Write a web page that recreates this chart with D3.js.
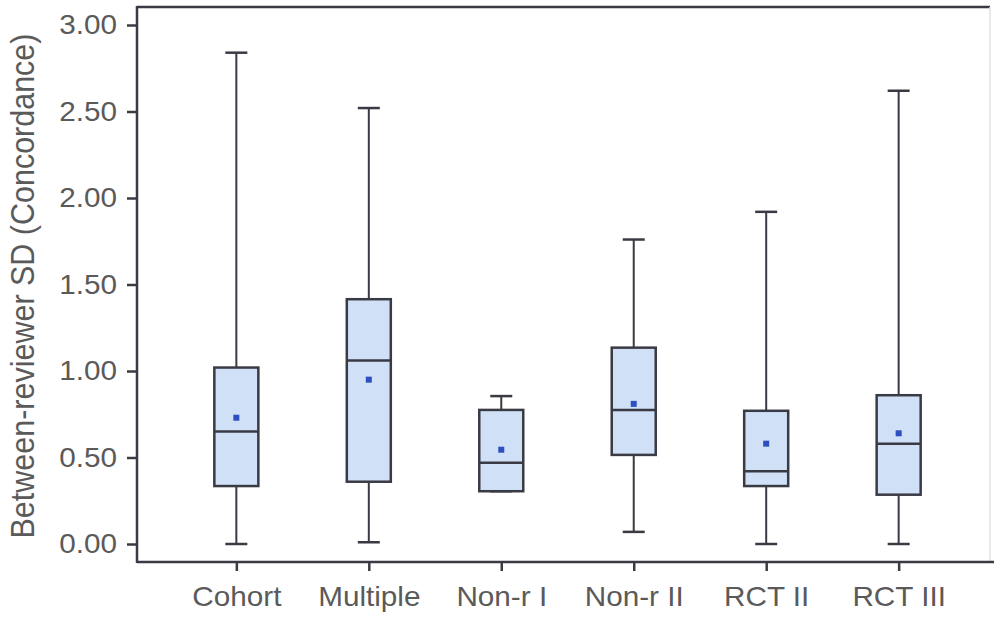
<!DOCTYPE html>
<html>
<head>
<meta charset="utf-8">
<script src="https://cdn.jsdelivr.net/npm/d3@7"></script>
<style>
  body { margin: 0; background: #fff; }
  text { font-family: "Liberation Sans", Arial, sans-serif; fill: #5a5a5a; }
</style>
</head>
<body>
<div class="canvas"></div>
<script>
// data
const categories = ['Cohort', 'Multiple', 'Non-r I', 'Non-r II', 'RCT II', 'RCT III'];
const whiskerLow = [0.00, 0.01, 0.305, 0.07, 0.00, 0.00];
const q1 = [0.335, 0.36, 0.305, 0.515, 0.335, 0.285];
const median = [0.65, 1.06, 0.47, 0.775, 0.42, 0.58];
const q3 = [1.02, 1.415, 0.775, 1.135, 0.77, 0.86];
const whiskerHigh = [2.84, 2.52, 0.855, 1.76, 1.92, 2.62];
const mean = [0.73, 0.95, 0.545, 0.81, 0.58, 0.64];
const yTicks = [0, 0.5, 1, 1.5, 2, 2.5, 3];

const dims = { width: 994, height: 619 };
const frame = { left: 137, right: 990, top: 7, bottom: 562 };
const boxW = 44, capW = 22;
const stretch = 1.1;

const svg = d3.select('.canvas')
    .append('svg')
    .attr('width', dims.width)
    .attr('height', dims.height);

const x = d3.scalePoint()
    .domain(categories)
    .range([frame.left, 998])
    .padding(0.75);

const y = d3.scaleLinear()
    .domain([0, 3])
    .range([544, 25]);

const data = categories.map((c, i) => ({
    name: c, lo: whiskerLow[i], q1: q1[i], med: median[i],
    q3: q3[i], hi: whiskerHigh[i], mean: mean[i]
}));

// frame
svg.append('line')
    .attr('x1', frame.left).attr('x2', frame.right)
    .attr('y1', frame.top).attr('y2', frame.top)
    .attr('stroke', '#3a3a44').attr('stroke-width', 2.5);
svg.append('line')
    .attr('x1', frame.right).attr('x2', frame.right)
    .attr('y1', frame.top).attr('y2', frame.bottom)
    .attr('stroke', '#e2e2e2').attr('stroke-width', 1.5);
svg.append('line')
    .attr('x1', frame.left).attr('x2', frame.left)
    .attr('y1', frame.top - 1).attr('y2', frame.bottom + 1)
    .attr('stroke', '#3a3a44').attr('stroke-width', 2.5);
svg.append('line')
    .attr('x1', frame.left).attr('x2', dims.width)
    .attr('y1', frame.bottom).attr('y2', frame.bottom)
    .attr('stroke', '#3a3a44').attr('stroke-width', 2.5);

// y axis
const yAxis = d3.axisLeft(y)
    .tickValues(yTicks)
    .tickFormat(d3.format('.2f'))
    .tickSize(10)
    .tickPadding(10);

const yG = svg.append('g')
    .attr('transform', `translate(${frame.left}, 0)`)
    .call(yAxis);
yG.select('.domain').remove();
yG.selectAll('line').attr('stroke', '#3a3a44').attr('stroke-width', 2.5);
yG.selectAll('text')
    .attr('font-size', 27)
    .attr('x', -20 / stretch)
    .attr('transform', `scale(${stretch},1)`)
    .style('fill', '#5a5a5a');

// x axis
const xAxis = d3.axisBottom(x)
    .tickSize(9)
    .tickPadding(16);

const xG = svg.append('g')
    .attr('transform', `translate(0, ${frame.bottom})`)
    .call(xAxis);
xG.select('.domain').remove();
xG.selectAll('line').attr('stroke', '#3a3a44').attr('stroke-width', 2.5);
xG.selectAll('text')
    .attr('font-size', 27)
    .attr('transform', `scale(${stretch},1)`)
    .style('fill', '#5a5a5a');

// y label
svg.append('text')
    .attr('transform', `translate(34, 286) rotate(-90) scale(1, 1.1)`)
    .attr('text-anchor', 'middle')
    .attr('font-size', 30.5)
    .text('Between-reviewer SD (Concordance)');

// boxes
const g = svg.append('g');
const box = g.selectAll('g.box')
    .data(data)
    .enter()
    .append('g')
    .attr('class', 'box')
    .attr('transform', d => `translate(${x(d.name)}, 0)`);

const stroke = '#3a3a44';

// whiskers
box.append('line')
    .attr('x1', 0).attr('x2', 0)
    .attr('y1', d => y(d.hi)).attr('y2', d => y(d.q3))
    .attr('stroke', stroke).attr('stroke-width', 2);
box.append('line')
    .attr('x1', 0).attr('x2', 0)
    .attr('y1', d => y(d.q1)).attr('y2', d => y(d.lo))
    .attr('stroke', stroke).attr('stroke-width', 2);
// caps
box.append('line')
    .attr('x1', -capW / 2).attr('x2', capW / 2)
    .attr('y1', d => y(d.hi)).attr('y2', d => y(d.hi))
    .attr('stroke', stroke).attr('stroke-width', 2.5);
box.append('line')
    .attr('x1', -capW / 2).attr('x2', capW / 2)
    .attr('y1', d => y(d.lo)).attr('y2', d => y(d.lo))
    .attr('stroke', stroke).attr('stroke-width', 2.5);

// box
box.append('rect')
    .attr('x', -boxW / 2)
    .attr('width', boxW)
    .attr('y', d => y(d.q3))
    .attr('height', d => y(d.q1) - y(d.q3))
    .attr('fill', '#cfe0f7')
    .attr('stroke', stroke)
    .attr('stroke-width', 2.5);

// median
box.append('line')
    .attr('x1', -boxW / 2).attr('x2', boxW / 2)
    .attr('y1', d => y(d.med)).attr('y2', d => y(d.med))
    .attr('stroke', stroke).attr('stroke-width', 2.5);

// mean marker
box.append('rect')
    .attr('x', -3).attr('width', 6)
    .attr('y', d => y(d.mean) - 3).attr('height', 6)
    .attr('fill', '#2f4fc0');
</script>
</body>
</html>
